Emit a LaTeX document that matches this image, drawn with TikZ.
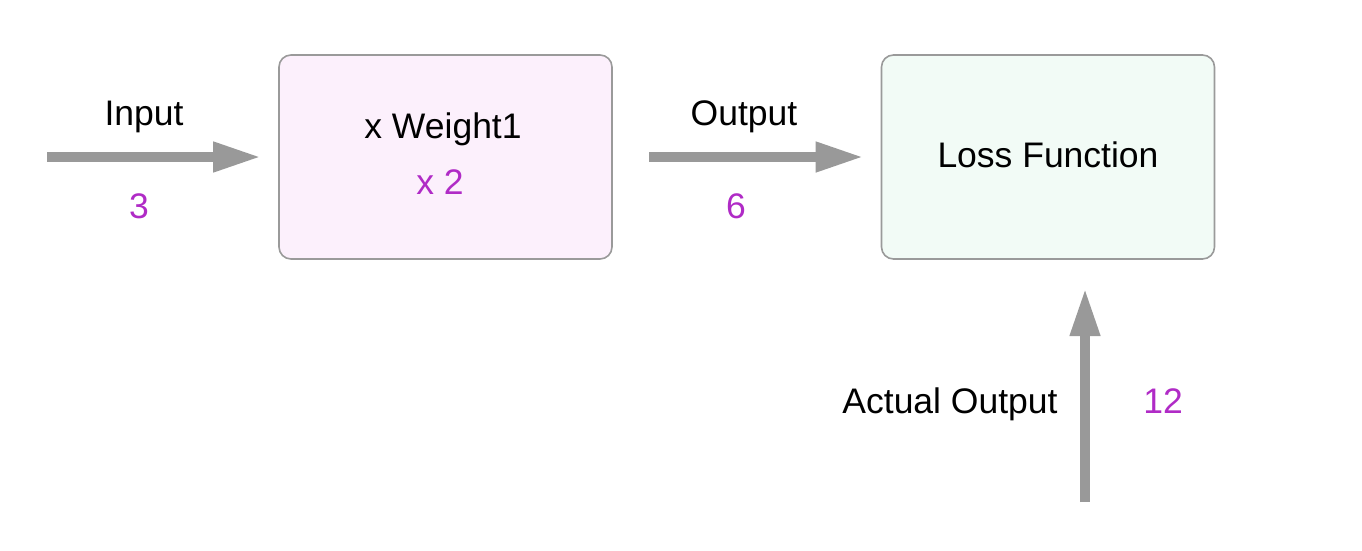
\documentclass[tikz,border=0pt]{standalone}
\usepackage{fontspec}
\setmainfont{Liberation Sans}
\usetikzlibrary{arrows.meta}
\definecolor{arrowgray}{HTML}{999999}
\definecolor{boxline}{HTML}{9A9A9A}
\definecolor{pinkfill}{HTML}{FCF0FC}
\definecolor{mintfill}{HTML}{F2FBF6}
\definecolor{valpurple}{HTML}{B02BC6}
\tikzset{
  stagebox/.style={draw=boxline, line width=1.6pt, rounded corners=12pt, minimum width=333pt, minimum height=204pt, inner sep=0pt},
  flow/.style={draw=arrowgray, line width=10pt, -{Triangle[length=48pt,width=28pt]}},
  lbl/.style={anchor=base, inner sep=0pt, font=\fontsize{35.5}{42}\selectfont},
  val/.style={lbl, text=valpurple}
}
\begin{document}
\begin{tikzpicture}[x=1pt,y=1pt,yscale=-1,xscale=1]
\useasboundingbox (0,0) rectangle (1362,550);
% boxes
\node [stagebox, fill=pinkfill] (weight) at (445.5,157) {};
\node [stagebox, fill=mintfill] (loss) at (1048,157) {};
% free arrow ends
\coordinate (inputstart) at (47,157);
\coordinate (outputstart) at (649,157);
\coordinate (actualstart) at (1085,502);
\coordinate (actualend) at (1085,288);
% arrows
\draw [flow] (inputstart) -- ([xshift=-17pt]weight.west);
\draw [flow] (outputstart) -- ([xshift=-17pt]loss.west);
\draw [flow] (actualstart) -- (actualend);
% labels
\node [lbl] (inputlbl) at (144,125) {Input};
\node [val] (inputval) at (139,218) {3};
\node [lbl] (weightlbl) at (443,138) {x Weight1};
\node [val] (weightval) at (440,194) {x 2};
\node [lbl] (outputlbl) at (744,125) {Output};
\node [val] (outputval) at (736,218) {6};
\node [lbl] (losslbl) at (1048,167) {Loss Function};
\node [lbl] (actuallbl) at (950,413) {Actual Output};
\node [val] (actualval) at (1163,413) {12};
\end{tikzpicture}
\end{document}
